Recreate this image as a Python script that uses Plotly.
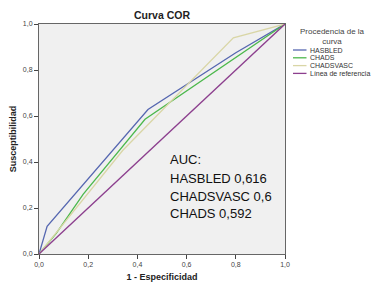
import plotly.graph_objects as go

# ---- data ----
hasbled_x = [0.0, 0.033, 0.443, 0.80, 1.0]
hasbled_y = [0.0, 0.120, 0.628, 0.875, 1.0]
chads_x = [0.0, 0.07, 0.18, 0.431, 1.0]
chads_y = [0.0, 0.09, 0.26, 0.586, 1.0]
chadsvasc_x = [0.0, 0.34, 0.79, 1.0]
chadsvasc_y = [0.0, 0.45, 0.94, 1.0]
ref_x = [0.0, 1.0]
ref_y = [0.0, 1.0]

series_names = ["HASBLED", "CHADS", "CHADSVASC", "Línea de referencia"]
series_colors = ["#5566b0", "#4cb84c", "#d9d6a6", "#8c3f8e"]

tick_vals = [0.0, 0.2, 0.4, 0.6, 0.8, 1.0]
tick_text = ["0,0", "0,2", "0,4", "0,6", "0,8", "1,0"]

auc_lines = ["AUC:", "HASBLED 0,616", "CHADSVASC 0,6", "CHADS 0,592"]

FONT = "Liberation Sans"

# page body has an 8px margin; figure coordinates = page px - 8
W, H = 371, 281
L, T = 31, 16
PW, PH = 246, 230

fig = go.Figure()
for xs, ys, name, col in zip([hasbled_x, chads_x, chadsvasc_x, ref_x],
                             [hasbled_y, chads_y, chadsvasc_y, ref_y],
                             series_names, series_colors):
    fig.add_trace(go.Scatter(x=xs, y=ys, mode="lines", name=name,
                             line=dict(color=col, width=1.3), showlegend=False))

axis_common = dict(range=[0, 1], tickvals=tick_vals, ticktext=tick_text,
                   showgrid=False, zeroline=False, showline=True, mirror=True,
                   linecolor="#666666", linewidth=1, ticks="outside", ticklen=4,
                   tickcolor="#444444", automargin=False,
                   tickfont=dict(family=FONT, size=7, color="#444444"))

fig.update_xaxes(**axis_common,
                 title=dict(text="<b>1 - Especificidad</b>", standoff=6,
                            font=dict(family=FONT, size=9, color="#222222")))
fig.update_yaxes(**axis_common,
                 title=dict(text="<b>Susceptibilidad</b>", standoff=6,
                            font=dict(family=FONT, size=9, color="#222222")))

fig.update_layout(
    width=W, height=H,
    margin=dict(l=L, r=W - L - PW, t=T, b=H - T - PH, autoexpand=False),
    paper_bgcolor="white", plot_bgcolor="#f0f0f0",
    title=dict(text="<b>Curva COR</b>", x=(L + PW / 2) / W, xanchor="center",
               y=1 - 7 / H, yanchor="middle",
               font=dict(family=FONT, size=10.5, color="#222222")),
    showlegend=False,
)

# AUC annotation text
auc_y = [0.409, 0.330, 0.252, 0.176]
for txt, yy in zip(auc_lines, auc_y):
    fig.add_annotation(x=0.525, y=yy, xref="x", yref="y", text=txt, showarrow=False,
                       xanchor="left", yanchor="middle",
                       font=dict(family=FONT, size=13, color="#111111"))

# Manual legend (positions in page pixels converted to paper coords)
def px_to_paper_x(px):
    return (px - 39) / PW

def px_to_paper_y(py):
    return (254 - py) / PH

fig.add_annotation(x=px_to_paper_x(332), y=px_to_paper_y(36), xref="paper", yref="paper",
                   text="Procedencia de la<br>curva", showarrow=False,
                   xanchor="center", yanchor="middle", align="center",
                   font=dict(family=FONT, size=8, color="#444444"))
item_y = [50, 57.8, 65.6, 73.4]
for name, col, iy in zip(series_names, series_colors, item_y):
    fig.add_shape(type="line", xref="paper", yref="paper",
                  x0=px_to_paper_x(293), x1=px_to_paper_x(306.5),
                  y0=px_to_paper_y(iy), y1=px_to_paper_y(iy),
                  line=dict(color=col, width=1.3))
    fig.add_annotation(x=px_to_paper_x(307.5), y=px_to_paper_y(iy), xref="paper", yref="paper",
                       text=name, showarrow=False, xanchor="left", yanchor="middle",
                       font=dict(family=FONT, size=7, color="#333333"))

fig.write_html("out.html")
